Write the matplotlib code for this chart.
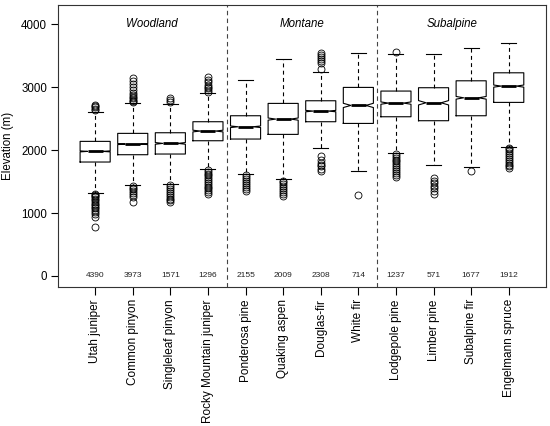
import numpy as np
import matplotlib
matplotlib.use("Agg")
import matplotlib.pyplot as plt

plt.rcParams['font.family'] = ['Liberation Sans', 'DejaVu Sans']

# species, sample sizes and box statistics
species = ["Utah juniper", "Common pinyon", "Singleleaf pinyon", "Rocky Mountain juniper",
           "Ponderosa pine", "Quaking aspen", "Douglas-fir", "White fir",
           "Lodgepole pine", "Limber pine", "Subalpine fir", "Engelmann spruce"]
counts = [4390, 3973, 1571, 1296, 2155, 2009, 2308, 714, 1237, 571, 1677, 1912]
whislo = [1323, 1450, 1460, 1704, 1619, 1534, 2026, 1672, 1947, 1767, 1725, 2053]
q1 = [1810, 1926, 1937, 2148, 2175, 2249, 2450, 2423, 2529, 2466, 2545, 2757]
med = [1979, 2095, 2106, 2302, 2370, 2492, 2619, 2709, 2746, 2751, 2830, 3016]
q3 = [2138, 2265, 2275, 2450, 2545, 2741, 2783, 2995, 2937, 2990, 3100, 3227]
whishi = [2608, 2741, 2730, 2910, 3106, 3439, 3243, 3534, 3524, 3524, 3624, 3693]
outliers = [
    [2640, 2660, 2680, 2700, 2710, 1310, 1290, 1270, 1250, 1230, 1200, 1180, 1150,
     1120, 1100, 1080, 1050, 1020, 990, 940, 780],
    [2760, 2780, 2800, 2820, 2840, 2870, 2900, 2950, 3000, 3050, 3100, 3150,
     1430, 1400, 1380, 1350, 1320, 1290, 1260, 1180],
    [2770, 2800, 2830, 1440, 1410, 1380, 1350, 1320, 1290, 1260, 1230, 1200, 1170],
    [2930, 2950, 2980, 3000, 3030, 3080, 3120, 3160, 1680, 1650, 1620, 1600, 1570,
     1540, 1510, 1480, 1450, 1420, 1390, 1360, 1330, 1300],
    [1600, 1570, 1540, 1510, 1480, 1450, 1420, 1380, 1350],
    [1510, 1490, 1460, 1430, 1400, 1370, 1340, 1300, 1270],
    [3280, 3380, 3420, 3450, 3480, 3510, 3540, 1900, 1850, 1800, 1770, 1740, 1700, 1660],
    [1280],
    [3560, 1940, 1910, 1880, 1850, 1820, 1790, 1760, 1730, 1700, 1670, 1640, 1610, 1580],
    [1550, 1510, 1470, 1430, 1390, 1350, 1310],
    [1670],
    [2040, 2010, 1980, 1950, 1920, 1890, 1860, 1830, 1800, 1770, 1740, 1710],
]
zones = ["Woodland", "Montane", "Subalpine"]

# R-style notch: median +/- 1.58 * IQR / sqrt(n)
stats = []
for i in range(len(species)):
    half = 1.58 * (q3[i] - q1[i]) / np.sqrt(counts[i])
    stats.append(dict(med=med[i], q1=q1[i], q3=q3[i], whislo=whislo[i], whishi=whishi[i],
                      fliers=outliers[i], cilo=med[i] - half, cihi=med[i] + half))

fig = plt.figure(figsize=(5.5, 4.26), dpi=100)
ax = fig.add_axes([0.106, 0.327, 0.886, 0.661])

pos = np.arange(1, len(species) + 1)
ax.bxp(stats, positions=pos, widths=0.8, shownotches=True, patch_artist=False,
       boxprops=dict(color="black", linewidth=0.8),
       medianprops=dict(color="black", linewidth=2.0, solid_capstyle="butt"),
       whiskerprops=dict(color="black", linewidth=0.8, linestyle=(0, (3.5, 3))),
       capprops=dict(color="black", linewidth=0.8),
       flierprops=dict(marker="o", markerfacecolor="none", markeredgecolor="black",
                       markersize=5, markeredgewidth=0.6))

for x, n in zip(pos, counts):
    ax.text(x, 0, str(n), ha="center", va="center", fontsize=6, color="#222222")

for x in [4.5, 8.5]:
    ax.axvline(x, color="#444444", linewidth=0.8, linestyle=(0, (4, 3)))

for x, z in zip([2.5, 6.5, 10.5], zones):
    ax.text(x, 4000, z, ha="center", va="center", fontsize=8.3, style="italic")

ax.set_xlim(0.02, 12.98)
ax.set_ylim(-170, 4302)
ax.set_yticks([0, 1000, 2000, 3000, 4000])
ax.set_xticks(pos)
ax.set_xticklabels(species, rotation=90, fontsize=8.5)
ax.tick_params(axis="y", labelsize=8.3, length=5, width=0.8, pad=3)
ax.tick_params(axis="x", length=6, width=0.8, pad=3)
ax.set_ylabel("Elevation (m)", fontsize=8.3, labelpad=5)
for s in ax.spines.values():
    s.set_linewidth(0.8)
    s.set_color("#333333")

fig.savefig("out.png", dpi=100)
